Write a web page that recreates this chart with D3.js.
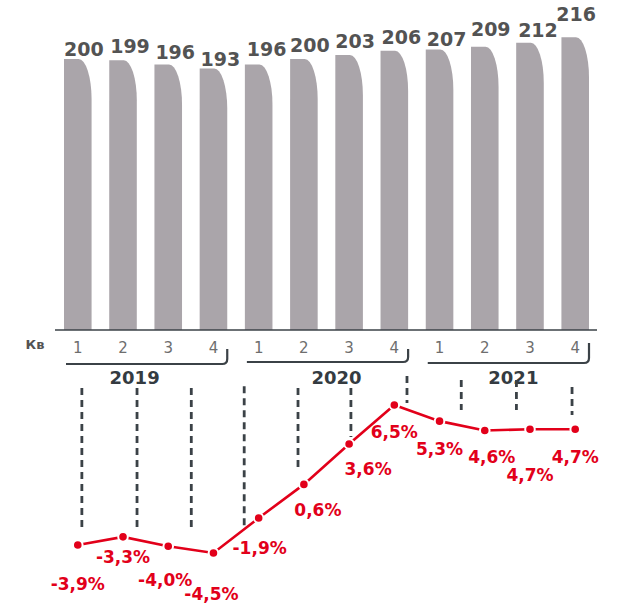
<!DOCTYPE html>
<html>
<head>
<meta charset="utf-8">
<script src="https://cdn.jsdelivr.net/npm/d3@7"></script>
<style>
  html, body { margin: 0; padding: 0; background: #fff; }
  svg { display: block; font-family: "DejaVu Sans", Verdana, sans-serif; }
</style>
</head>
<body>
<svg id="chart" width="618" height="605"></svg>
<script>
// ---- data ----
const quarters = ["1","2","3","4","1","2","3","4","1","2","3","4"];
const years = ["2019","2020","2021"];
const barValues = [200,199,196,193,196,200,203,206,207,209,212,216];
const growthValues = [-3.9,-3.3,-4.0,-4.5,-1.9,0.6,3.6,6.5,5.3,4.6,4.7,4.7];
const growthLabels = ["-3,9%","-3,3%","-4,0%","-4,5%","-1,9%","0,6%","3,6%","6,5%","5,3%","4,6%","4,7%","4,7%"];
const axisTitle = "Кв";

// decorative dashed guides: position in quarter units, top/bottom in % units
const guideQ =   [0.09, 1.31, 2.51, 3.68, 4.87, 6.04, 7.28, 8.48, 9.70, 10.93];
const guideTop = [7.77, 7.77, 7.77, 7.9, 7.77, 7.77, 8.66, 8.36, 8.36, 7.84];
const guideEnd = [-2.64,-2.64,-2.64,-2.79, 1.52, 4.13, 6.65, 6.13, 6.13, 5.76];

// label layout offsets (px)
const barLabelDx = [6,7,7,7,8,6,6,7,7,6,8,1];
const barLabelDy = [-3,-7,-5,-2.5,-8,-7,-7,-7,-3.5,-11,-6,-16];
const pctLabelDx = [0,0,-3,-2,1,14,19,0,0,7,0,0];
const pctLabelDy = [45,26,40,47,36,32,31,33,34,32,52,34];
const yearLabelDx = [-12,9,5];

// ---- colors ----
const barColor = "#aaa5aa";
const darkGray = "#3b4247";
const valueGray = "#535353";
const red = "#e2001a";

const svg = d3.select("#chart");

const idx = d3.range(quarters.length);
const x = d3.scaleBand().domain(idx).range([64, 589]).paddingInner(0.39).paddingOuter(0);
const bw = x.bandwidth();
const baseY = 330;
const yBar = d3.scaleLinear().domain([0, 200]).range([baseY, 59]);
const yLine = d3.scaleLinear().domain([-4.5, 6.5]).range([553, 405]);
const xq = d3.scaleLinear().domain([0, 11]).range([x(0) + bw/2, x(11) + bw/2]);

// bars with rounded top-right
const rx = 13, ry = 40;
svg.append("g").selectAll("path").data(barValues).join("path")
  .attr("fill", barColor)
  .attr("d", (v, i) => {
    const x0 = x(i), x1 = x0 + bw, t = yBar(v), b = baseY;
    return `M${x0},${b}V${t}H${x1 - rx}A${rx},${ry} 0 0 1 ${x1},${t + ry}V${b}Z`;
  });

// bar value labels
svg.append("g").selectAll("text").data(barValues).join("text")
  .attr("x", (v, i) => x(i) + bw/2 + barLabelDx[i])
  .attr("y", (v, i) => yBar(v) + barLabelDy[i])
  .attr("text-anchor", "middle")
  .attr("font-size", 19)
  .attr("font-weight", "bold")
  .attr("fill", valueGray)
  .text(v => v);

// baseline
svg.append("line")
  .attr("x1", 55).attr("x2", 597).attr("y1", baseY).attr("y2", baseY)
  .attr("stroke", darkGray).attr("stroke-width", 1.5);

// quarter axis labels
const xAxis = d3.axisBottom(x).tickSize(0).tickPadding(0).tickFormat(i => quarters[i]);
const axG = svg.append("g").attr("transform", `translate(0,${baseY})`).call(xAxis)
  .attr("font-size", 15).attr("font-family", "DejaVu Sans, Verdana, sans-serif");
axG.select(".domain").remove();
axG.selectAll("text")
  .attr("dy", null).attr("y", 23)
  .attr("font-size", 15).attr("fill", "#6e6e6e");

svg.append("text").attr("x", 35).attr("y", 349).attr("text-anchor", "middle")
  .attr("font-size", 13).attr("font-weight", "bold").attr("fill", valueGray)
  .text(axisTitle);

// year brackets
const hookTop = [349, 349, 343];
const bracketY = [364, 362, 363];
years.forEach((yr, g) => {
  const x0 = x(g*4) + 2, x1 = x(g*4 + 3) + bw;
  const yb = bracketY[g];
  svg.append("path")
    .attr("d", `M${x0},${yb}H${x1 - 5}Q${x1},${yb} ${x1},${yb - 5}V${hookTop[g]}`)
    .attr("fill", "none").attr("stroke", darkGray).attr("stroke-width", 2.2);
  svg.append("text")
    .attr("x", (x0 + x1)/2 + yearLabelDx[g]).attr("y", 384)
    .attr("text-anchor", "middle").attr("font-size", 18).attr("font-weight", "bold")
    .attr("fill", "#343b41").text(yr);
});

// dashed guides
svg.append("g").selectAll("line").data(guideQ).join("line")
  .attr("x1", q => xq(q)).attr("x2", q => xq(q))
  .attr("y1", (q, i) => yLine(guideTop[i])).attr("y2", (q, i) => yLine(guideEnd[i]))
  .attr("stroke", darkGray).attr("stroke-width", 2.8).attr("stroke-dasharray", "7,5");

// growth line
const line = d3.line().x((v, i) => x(i) + bw/2).y(v => yLine(v));
svg.append("path").datum(growthValues)
  .attr("d", line).attr("fill", "none").attr("stroke", red).attr("stroke-width", 2.6);

svg.append("g").selectAll("circle").data(growthValues).join("circle")
  .attr("cx", (v, i) => x(i) + bw/2).attr("cy", v => yLine(v)).attr("r", 4.8)
  .attr("fill", red).attr("stroke", "#fff").attr("stroke-width", 2);

svg.append("g").selectAll("text").data(growthValues).join("text")
  .attr("x", (v, i) => x(i) + bw/2 + pctLabelDx[i])
  .attr("y", (v, i) => yLine(v) + pctLabelDy[i])
  .attr("text-anchor", "middle").attr("font-size", 17).attr("font-weight", "bold")
  .attr("fill", red)
  .text((v, i) => growthLabels[i]);
</script>
</body>
</html>
